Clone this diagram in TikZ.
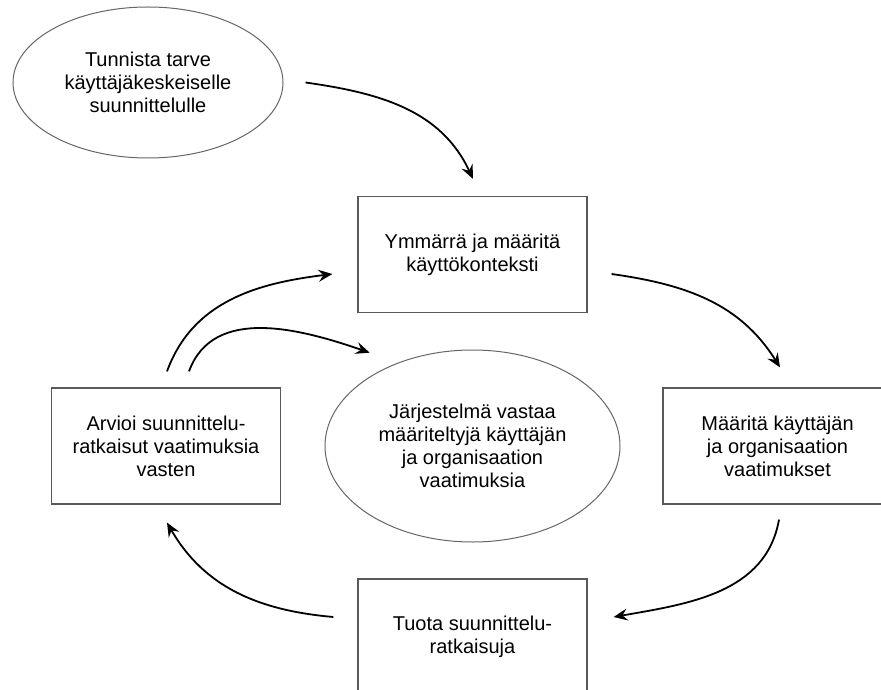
\documentclass[tikz,border=0pt]{standalone}
\usepackage{fontspec}
\setmainfont{Liberation Sans}
\usetikzlibrary{shapes.geometric,arrows.meta}
\begin{document}
\begin{tikzpicture}[x=1pt,y=-1pt,
  font=\fontsize{20}{23}\selectfont,
  box/.style={draw=black!65,line width=1.2pt,minimum width=229pt,minimum height=116pt,align=center,inner sep=0pt},
  oval/.style={ellipse,draw=black!60,line width=1pt,align=center,inner sep=0pt},
  flow/.style={line width=1.8pt,-{Stealth[length=14pt,width=12pt,inset=5pt]}}]
\useasboundingbox (0,0) rectangle (881,690);
\fill[white] (0,0) rectangle (881,690);

\node[oval,minimum width=270pt,minimum height=151pt] (need) at (148,82.5) {Tunnista tarve\\käyttäjäkeskeiselle\\suunnittelulle};
\node[oval,minimum width=295pt,minimum height=192pt] (goal) at (472.5,446) {Järjestelmä vastaa\\määriteltyjä käyttäjän\\ja organisaation\\vaatimuksia};

\node[box] (context) at (472.5,254.5) {Ymmärrä ja määritä\\käyttökonteksti};
\node[box] (demands) at (777.5,446) {Määritä käyttäjän\\ja organisaation\\vaatimukset};
\node[box] (design) at (472.5,637) {Tuota suunnittelu-\\ratkaisuja};
\node[box] (evaluate) at (166,446) {Arvioi suunnittelu-\\ratkaisut vaatimuksia\\vasten};

\draw[flow] ([xshift=22pt]need.east) to[out=-8,in=115] ([xshift=0.5pt,yshift=17pt]context.north);
\draw[flow] ([xshift=24pt,yshift=-19.5pt]context.east) to[out=-8,in=122] ([xshift=2.5pt,yshift=20pt]demands.north);
\draw[flow] ([xshift=1.5pt,yshift=-15pt]demands.south) to[out=-100,in=10] ([xshift=26pt,yshift=20pt]design.east);
\draw[flow] ([xshift=-24pt,yshift=20pt]design.west) to[out=175,in=-60] ([xshift=1pt,yshift=-18pt]evaluate.south);
\draw[flow] ([xshift=1pt,yshift=16pt]evaluate.north) to[out=70,in=-173] ([xshift=-25pt,yshift=-19.5pt]context.west);
\draw[flow] ([xshift=23pt,yshift=16pt]evaluate.north) to[out=70,in=161] ([xshift=-22pt,yshift=12.5pt]goal.135);
\end{tikzpicture}
\end{document}
